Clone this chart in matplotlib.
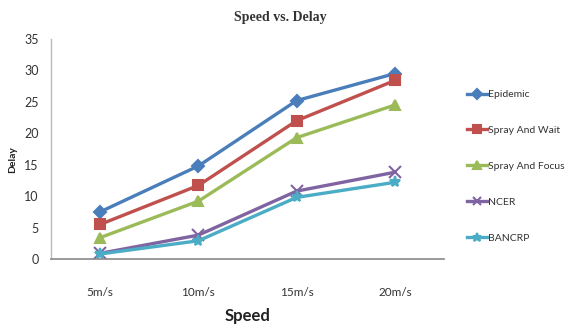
import matplotlib
matplotlib.use("Agg")
import matplotlib.pyplot as plt

speeds = ["5m/s", "10m/s", "15m/s", "20m/s"]
epidemic = [7.5, 14.8, 25.2, 29.5]
spray_wait = [5.5, 11.7, 22.0, 28.4]
spray_focus = [3.4, 9.2, 19.3, 24.5]
ncer = [0.9, 3.8, 10.8, 13.8]
bancrp = [0.8, 2.9, 9.8, 12.2]

series = [
    ("Epidemic", epidemic, "#4A7EBB", "D", 6),
    ("Spray And Wait", spray_wait, "#C0504D", "s", 7),
    ("Spray And Focus", spray_focus, "#9BBB59", "^", 7),
    ("NCER", ncer, "#8064A2", "x", 8),
    ("BANCRP", bancrp, "#4BACC6", "*", 8),
]

narrow = ["Lato", "DejaVu Sans"]

fig = plt.figure(figsize=(5.69, 3.33), dpi=100)
ax = fig.add_axes([51 / 569, 1 - 259 / 333, (444 - 51) / 569, (259 - 39) / 333])

x = list(range(len(speeds)))
for name, vals, color, marker, ms in series:
    ax.plot(x, vals, color=color, lw=2.4, marker=marker, ms=ms,
            mew=1.5, label=name)

ax.set_xlim(-0.5, len(speeds) - 0.5)
ax.set_ylim(0, 35)
ax.set_yticks(range(0, 36, 5))
ax.set_xticks(x)
ax.set_xticklabels(speeds, fontfamily=narrow, fontsize=8.5, color="#333333")
for lbl in ax.get_yticklabels():
    lbl.set_fontfamily(narrow)
    lbl.set_fontsize(9)
    lbl.set_color("#333333")
ax.tick_params(axis="both", length=0)
ax.tick_params(axis="x", pad=20)
ax.tick_params(axis="y", pad=9)

for s in ("top", "right"):
    ax.spines[s].set_visible(False)
ax.spines["left"].set_color("#BBBBBB")
ax.spines["bottom"].set_color("#888888")
ax.spines["left"].set_linewidth(1.0)
ax.spines["bottom"].set_linewidth(1.2)

fig.text(280 / 569, 1 - 18 / 333, "Speed vs. Delay", ha="center", va="center",
         fontfamily="Liberation Serif", fontweight="bold", fontsize=10,
         color="#333333")
fig.text(248 / 569, 1 - 316 / 333, "Speed", ha="center", va="center",
         fontfamily=narrow, fontweight="bold", fontsize=12, color="#222222")
fig.text(13 / 569, 1 - 160 / 333, "Delay", ha="center", va="center",
         rotation=90, fontfamily=narrow, fontweight="bold", fontsize=7.5,
         color="#222222")

leg = fig.legend(loc="upper left", bbox_to_anchor=(467 / 569, 1 - 90 / 333),
                 frameon=False, prop={"family": narrow, "size": 7.5},
                 labelspacing=2.55, handlelength=1.9, handletextpad=0.15,
                 borderpad=0, borderaxespad=0,
                 markerscale=0.8, labelcolor="#333333")

fig.savefig("out.png", dpi=100)
